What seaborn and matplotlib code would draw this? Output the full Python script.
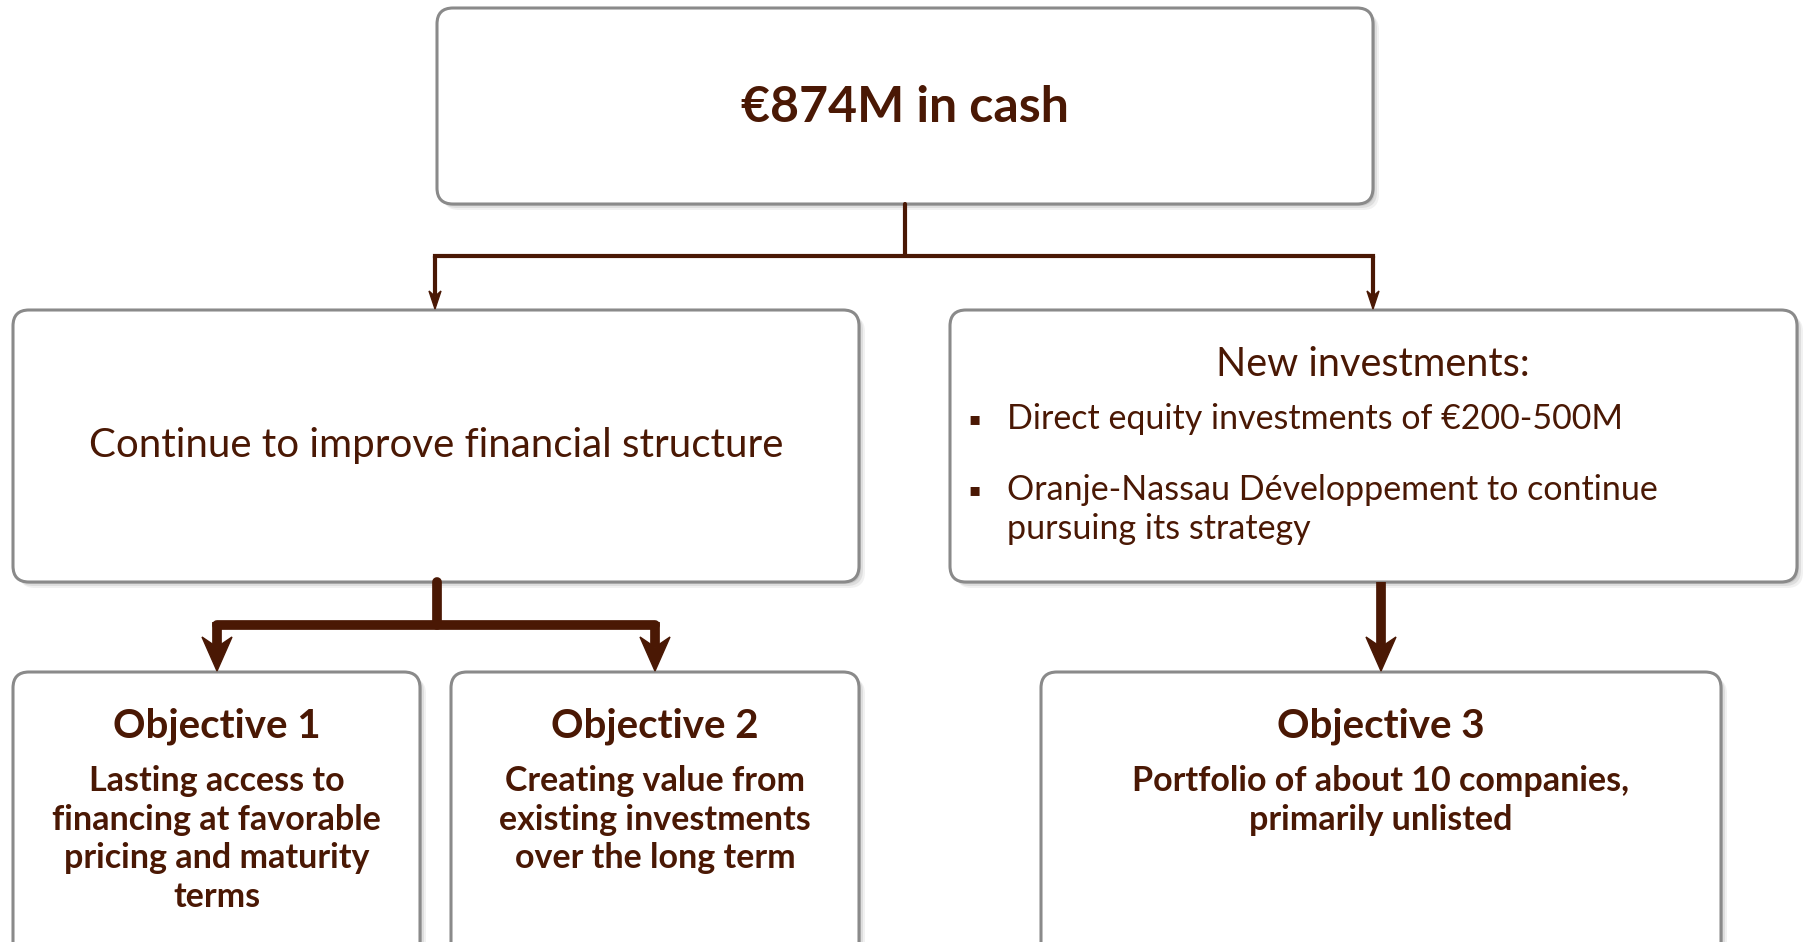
import matplotlib
matplotlib.use("Agg")
import matplotlib.pyplot as plt
from matplotlib.patches import FancyBboxPatch, Polygon
import seaborn as sns

sns.set_style("white")
plt.rcParams['font.family'] = ['Lato', 'DejaVu Sans']

# text content
top_label = "€874M in cash"
left_label = "Continue to improve financial structure"
right_title = "New investments:"
right_bullets = [["Direct equity investments of €200-500M"],
                 ["Oranje-Nassau Développement to continue", "pursuing its strategy"]]
obj_titles = ["Objective 1", "Objective 2", "Objective 3"]
obj_texts = [["Lasting access to", "financing at favorable", "pricing and maturity", "terms"],
             ["Creating value from", "existing investments", "over the long term"],
             ["Portfolio of about 10 companies,", "primarily unlisted"]]

BROWN = "#4a1804"
EDGE = "#8a8a8a"

fig = plt.figure(figsize=(18.06, 9.42), dpi=100)
ax = fig.add_axes([0, 0, 1, 1])
ax.set_xlim(0, 1806)
ax.set_ylim(942, 0)
ax.axis("off")


def box(x0, y0, x1, y1):
    # soft shadow then the box itself
    for k, a in [(6, 0.10), (4, 0.15), (2, 0.2)]:
        ax.add_patch(FancyBboxPatch((x0 + k, y0 + k), x1 - x0, y1 - y0,
                                    boxstyle="round,pad=0,rounding_size=16",
                                    fc="#777777", ec="none", alpha=a, zorder=1))
    ax.add_patch(FancyBboxPatch((x0, y0), x1 - x0, y1 - y0,
                                boxstyle="round,pad=0,rounding_size=16",
                                fc="white", ec=EDGE, lw=2.2, zorder=2))


def arrow(x, y0, y1, lw, hl, hw):
    # shaft plus a stealth-shaped head pointing down
    ax.plot([x, x], [y0, y1 - hl * 0.7], color=BROWN, lw=lw, solid_capstyle="butt", zorder=3)
    head = [(x, y1), (x - hw / 2, y1 - hl), (x, y1 - hl * 0.7), (x + hw / 2, y1 - hl)]
    ax.add_patch(Polygon(head, closed=True, fc=BROWN, ec=BROWN, lw=1, zorder=3))


# boxes
box(437, 8, 1373, 204)
box(13, 310, 859, 582)
box(950, 310, 1797, 582)
obj_boxes = [(13, 672, 420, 960), (451, 672, 859, 960), (1041, 672, 1721, 960)]
for b in obj_boxes:
    box(*b)

# thin connectors from the top box
ax.plot([905, 905], [204, 256], color=BROWN, lw=3, zorder=3)
ax.plot([435, 1373], [256, 256], color=BROWN, lw=3, zorder=3, solid_capstyle="projecting")
arrow(435, 256, 309, 3, 18, 12)
arrow(1373, 256, 309, 3, 18, 12)

# thick connectors to objectives
ax.plot([437, 437], [582, 625], color=BROWN, lw=7, zorder=3)
ax.plot([217, 655], [625, 625], color=BROWN, lw=7, zorder=3, solid_capstyle="round")
arrow(217, 622, 671, 7, 34, 30)
arrow(655, 622, 671, 7, 34, 30)
arrow(1381, 582, 671, 7, 34, 30)

# texts
ax.text(905, 108, top_label, ha="center", va="center", color=BROWN,
        fontsize=36, fontweight="bold", zorder=4)
ax.text(436, 446, left_label, ha="center", va="center", color=BROWN, fontsize=29, zorder=4)
ax.text(1373, 364, right_title, ha="center", va="center", color=BROWN, fontsize=28.5, zorder=4)
line_y = [[419], [490, 529]]
for ys, lines in zip(line_y, right_bullets):
    ax.text(975, ys[0], "▪", ha="center", va="center", color=BROWN, fontsize=13,
            family=['DejaVu Sans'], zorder=4)
    for yl, t in zip(ys, lines):
        ax.text(1007, yl, t, ha="left", va="center", color=BROWN, fontsize=24.5, zorder=4)

body_y = [781, 820, 858, 897]
for (x0, y0, x1, y1), t, body in zip(obj_boxes, obj_titles, obj_texts):
    cx = (x0 + x1) / 2
    ax.text(cx, 726, t, ha="center", va="center", color=BROWN, fontsize=29,
            fontweight="bold", zorder=4)
    for yl, line in zip(body_y, body):
        ax.text(cx, yl, line, ha="center", va="center", color=BROWN, fontsize=24.5,
                fontweight="bold", zorder=4)

fig.savefig("out.png", dpi=100, facecolor="white")
